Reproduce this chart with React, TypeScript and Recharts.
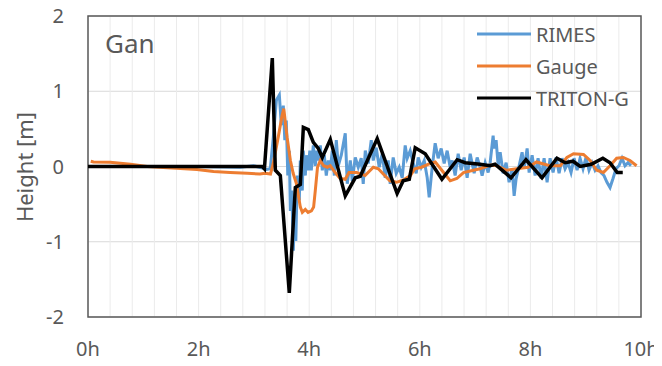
import React from 'react';
import { LineChart, Line, XAxis, YAxis, CartesianGrid, ReferenceArea } from 'recharts';

const FONT = '"Noto Sans", sans-serif';
const TEXT = '#595959';

const GRID_TICKS = [0, 0.4, 0.8, 1.2, 1.6, 2, 2.4, 2.8, 3.2, 3.6, 4, 4.4, 4.8, 5.2, 5.6, 6, 6.4, 6.8, 7.2, 7.6, 8, 8.4, 8.8, 9.2, 9.6, 10];
const LABEL_HOURS = [0, 2, 4, 6, 8, 10];
const Y_TICKS = [-2, -1, 0, 1, 2];

const RIMES_HOURS = [
  0, 1.13, 2.03, 2.755, 2.99, 3.153, 3.225, 3.297, 3.351, 3.406, 3.46, 3.496, 3.532, 3.559, 3.586, 3.613,
  3.64, 3.659, 3.686, 3.713, 3.731, 3.758, 3.785, 3.821, 3.839, 3.875, 3.893, 3.93, 3.948, 3.984, 4.011,
  4.038, 4.074, 4.11, 4.137, 4.165, 4.201, 4.237, 4.273, 4.309, 4.345, 4.381, 4.417, 4.454, 4.49, 4.526,
  4.58, 4.652, 4.688, 4.743, 4.779, 4.833, 4.887, 4.941, 4.977, 5.014, 5.068, 5.122, 5.158, 5.212, 5.266,
  5.32, 5.375, 5.429, 5.465, 5.519, 5.574, 5.628, 5.682, 5.736, 5.772, 5.826, 5.881, 5.935, 5.971, 6.025,
  6.08, 6.134, 6.17, 6.224, 6.278, 6.332, 6.387, 6.441, 6.495, 6.549, 6.585, 6.639, 6.694, 6.748, 6.802,
  6.856, 6.911, 6.983, 7.037, 7.091, 7.127, 7.182, 7.236, 7.272, 7.326, 7.344, 7.38, 7.417, 7.453, 7.507,
  7.561, 7.615, 7.669, 7.706, 7.742, 7.796, 7.85, 7.886, 7.941, 7.977, 8.031, 8.085, 8.139, 8.193, 8.248,
  8.302, 8.356, 8.41, 8.464, 8.519, 8.573, 8.627, 8.681, 8.735, 8.79, 8.844, 8.898, 8.952, 9.006, 9.06,
  9.115, 9.169, 9.223, 9.277, 9.331, 9.385, 9.44, 9.494, 9.548, 9.602, 9.657, 9.711, 9.765, 9.819,
];
const RIMES_VALUES = [
  0, 0, 0, -0.01, 0.01, -0.02, -0.04, -0.03, 0.39, 0.88, 0.95, 0.55, 0.81, 0.35, 0.61, -0.12,
  0.21, -0.59, -0.32, -1.12, -0.65, -0.99, -0.12, -0.45, 0.08, -0.32, 0.21, -0.12, 0.15, -0.05, 0.21,
  -0.05, 0.28, 0.01, 0.21, 0.08, 0.28, -0.05, 0.15, -0.12, 0.08, -0.05, 0.21, -0.12, 0.35, 0.01,
  0.15, 0.44, -0.23, 0.08, -0.19, 0.12, -0.01, 0.11, -0.23, 0.21, 0.04, 0.35, 0.08, 0.25, -0.01,
  0.17, -0.15, 0.08, -0.23, 0.12, -0.09, -0.01, -0.15, 0.28, 0.11, 0.21, 0.04, -0.09, 0.12, -0.01,
  0.08, -0.15, -0.41, -0.01, 0.31, 0.11, 0.24, 0.04, 0.21, -0.01, 0.08, -0.12, 0.17, -0.05, 0.12,
  -0.15, 0.17, -0.09, 0.12, -0.01, -0.12, 0.05, -0.08, 0.05, 0.41, 0.24, 0.35, 0.01, 0.19, -0.09,
  0.05, -0.21, -0.03, -0.39, -0.16, 0.01, 0.19, -0.03, 0.24, -0.08, 0.15, -0.12, 0.11, -0.16, 0.11,
  -0.21, 0.11, -0.08, 0.12, -0.09, 0.11, -0.03, 0.05, -0.08, 0.11, -0.05, 0.11, -0.03, 0.12, -0.05,
  0.05, -0.05, 0.01, -0.08, -0.12, -0.21, -0.28, -0.16, -0.03, 0.01, 0.11, 0.01, 0.05, 0.01,
];

const GAUGE_HOURS = [
  0.05, 0.1, 0.4, 0.77, 1.07, 1.36, 1.67, 1.97, 2.27, 2.57, 2.88, 3.11, 3.2, 3.3, 3.35, 3.44, 3.51, 3.54,
  3.6, 3.66, 3.71, 3.77, 3.81, 3.84, 3.876, 3.93, 3.98, 4.04, 4.08, 4.11, 4.15, 4.2, 4.26, 4.33, 4.38,
  4.47, 4.56, 4.65, 4.72, 4.86, 5.01, 5.16, 5.25, 5.34, 5.46, 5.58, 5.7, 5.83, 5.91, 6.03, 6.19, 6.28,
  6.43, 6.55, 6.67, 6.79, 6.97, 7.09, 7.27, 7.39, 7.57, 7.75, 7.96, 8.11, 8.35, 8.54, 8.66, 8.78, 8.96,
  9.08, 9.2, 9.32, 9.44, 9.56, 9.68, 9.8, 9.92,
];
const GAUGE_VALUES = [
  0.07, 0.06, 0.055, 0.03, 0, -0.013, -0.027, -0.04, -0.067, -0.08, -0.09, -0.1, -0.09, -0.1, 0.04, 0.39, 0.68, 0.77,
  0.39, 0.08, -0.09, -0.23, -0.41, -0.54, -0.61, -0.57, -0.61, -0.59, -0.54, -0.32, -0.01, 0.08, 0.01, -0.01, 0.01,
  -0.08, -0.16, -0.17, -0.08, -0.08, -0.12, -0.01, -0.03, -0.1, -0.19, -0.21, -0.18, -0.12, -0.03, -0.01, 0.04, 0.06,
  -0.08, -0.19, -0.16, -0.08, -0.05, -0.03, 0.02, 0.01, -0.05, -0.03, -0.01, 0.06, 0.01, 0.01, 0.12, 0.17, 0.16,
  0.08, -0.05, -0.08, 0.01, 0.11, 0.12, 0.08, 0.01,
];

const TRITON_HOURS = [
  0, 3.153, 3.19, 3.333, 3.388, 3.478, 3.64, 3.749, 3.84, 3.894, 3.984, 4.075, 4.165, 4.237, 4.382, 4.652,
  4.833, 4.924, 5.23, 5.59, 5.7, 5.81, 5.917, 6.098, 6.4, 6.676, 6.82, 7.09, 7.27, 7.36, 7.65, 7.92, 8.21,
  8.48, 8.63, 8.77, 8.9, 9.1, 9.31, 9.44, 9.57, 9.67,
];
const TRITON_VALUES = [
  0, 0, -0.03, 1.44, -0.05, -0.12, -1.68, -0.28, -0.24, 0.52, 0.49, 0.32, 0.24, 0.12, 0.36, -0.39,
  -0.15, -0.13, 0.37, -0.36, -0.19, -0.17, 0.25, 0.17, -0.17, 0.09, 0.05, 0.03, 0.01, 0.03, -0.15, 0.09, -0.15,
  0.11, 0.05, 0.07, 0.0, 0.03, 0.11, 0.05, -0.08, -0.08,
];

const toData = (hours: number[], values: number[]) => hours.map((h, i) => ({ h, v: values[i] }));
const rimesData = toData(RIMES_HOURS, RIMES_VALUES);
const gaugeData = toData(GAUGE_HOURS, GAUGE_VALUES);
const tritonData = toData(TRITON_HOURS, TRITON_VALUES);

const SERIES = [
  { name: 'RIMES', color: '#5B9BD5', width: 3 },
  { name: 'Gauge', color: '#ED7D31', width: 3 },
  { name: 'TRITON-G', color: '#000000', width: 3.5 },
];

const tickStyle = { fill: TEXT, fontSize: 20, fontFamily: FONT };

export default function App() {
  return (
    <div style={{ position: 'relative', width: 662, height: 366, margin: '-8px 0 0 -8px' }}>
      <LineChart width={662} height={366} margin={{ top: 16, right: 21, bottom: 9, left: 0 }} style={{ overflow: 'visible' }}>
        <CartesianGrid vertical={false} stroke="#D9D9D9" strokeWidth={1} />
        <CartesianGrid horizontal={false} stroke="#EBEBEB" strokeWidth={1} />
        <XAxis
          type="number"
          dataKey="h"
          domain={[0, 10]}
          ticks={GRID_TICKS}
          interval={0}
          tickFormatter={(v: number) => (LABEL_HOURS.includes(v) ? `${v}h` : '')}
          tickLine={false}
          axisLine={false}
          height={40}
          tickMargin={19}
          tick={tickStyle}
        />
        <YAxis
          type="number"
          domain={[-2, 2]}
          ticks={Y_TICKS}
          interval={0}
          width={88}
          tickLine={false}
          axisLine={false}
          tickMargin={18}
          tick={tickStyle}
        />
        <Line data={rimesData} dataKey="v" type="linear" stroke={SERIES[0].color} strokeWidth={SERIES[0].width} dot={false} isAnimationActive={false} />
        <Line data={gaugeData} dataKey="v" type="linear" stroke={SERIES[1].color} strokeWidth={SERIES[1].width} dot={false} isAnimationActive={false} />
        <Line data={tritonData} dataKey="v" type="linear" stroke={SERIES[2].color} strokeWidth={SERIES[2].width} dot={false} isAnimationActive={false} />
        <ReferenceArea x1={0} x2={10} y1={-2} y2={2} fill="none" fillOpacity={0} stroke="#595959" strokeWidth={1.5} />
      </LineChart>
      <svg
        width={662}
        height={366}
        style={{ position: 'absolute', left: 0, top: 0, pointerEvents: 'none' }}
      >
        <text x={105} y={53} fontFamily={FONT} fontSize={26} fill={TEXT}>Gan</text>
        <text
          x={24}
          y={167}
          fontFamily={FONT}
          fontSize={22}
          fill={TEXT}
          textAnchor="middle"
          dominantBaseline="central"
          transform="rotate(-90 24 167)"
        >
          Height [m]
        </text>
        {SERIES.map((s, i) => {
          const y = 34 + i * 32;
          return (
            <g key={s.name}>
              <line x1={477} x2={531} y1={y} y2={y} stroke={s.color} strokeWidth={3} />
              <text x={536} y={y} fontFamily={FONT} fontSize={20} fill={TEXT} dominantBaseline="central">
                {s.name}
              </text>
            </g>
          );
        })}
      </svg>
    </div>
  );
}
